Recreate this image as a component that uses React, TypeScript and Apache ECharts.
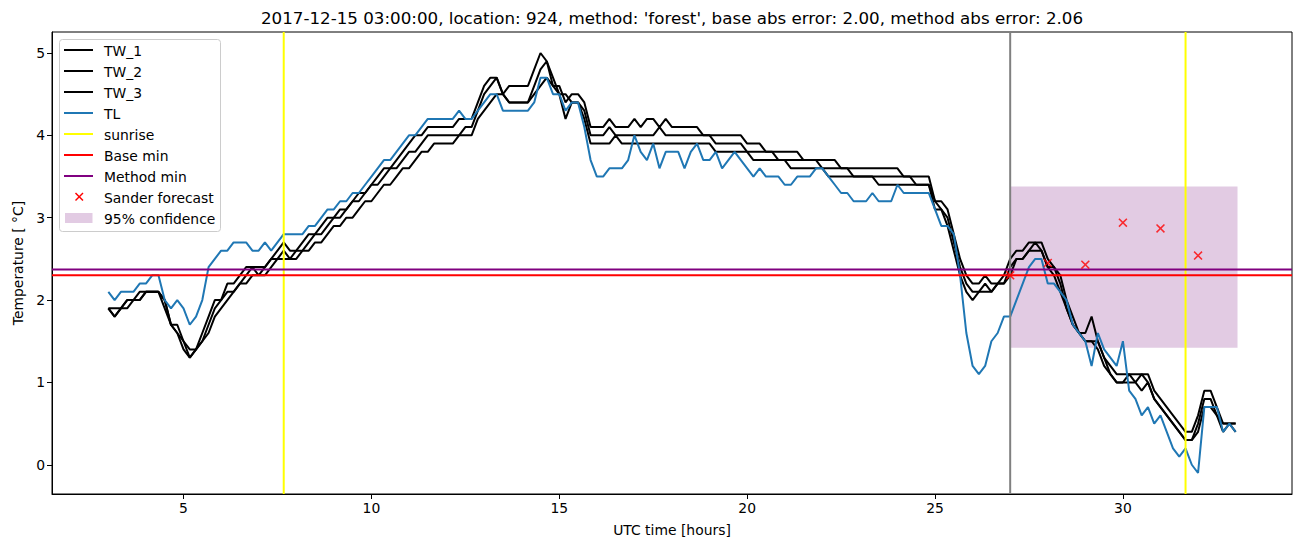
import React, { useEffect, useRef } from "react";
import * as echarts from "echarts";

// ---- data ----
const TIME_START = 3; // hours (UTC), first sample
const TIME_STEP_MIN = 10; // minutes between samples

const TW_1 = [
  1.9, 1.8, 1.9, 2.0, 2.0, 2.1, 2.1, 2.1, 2.1, 1.9,
  1.7, 1.6, 1.4, 1.3, 1.4, 1.6, 1.8, 2.0, 2.0, 2.2,
  2.2, 2.3, 2.4, 2.4, 2.4, 2.4, 2.5, 2.6, 2.7, 2.6,
  2.6, 2.7, 2.8, 2.8, 2.9, 3.0, 3.0, 3.1, 3.1, 3.2,
  3.3, 3.3, 3.4, 3.5, 3.6, 3.6, 3.7, 3.8, 3.9, 4.0,
  4.0, 4.1, 4.1, 4.1, 4.1, 4.1, 4.2, 4.2, 4.2, 4.4,
  4.6, 4.7, 4.7, 4.5, 4.6, 4.6, 4.6, 4.6, 4.8, 5.0,
  4.9, 4.6, 4.6, 4.4, 4.5, 4.5, 4.4, 4.1, 4.1, 4.1,
  4.2, 4.1, 4.1, 4.1, 4.2, 4.1, 4.2, 4.2, 4.1, 4.2,
  4.1, 4.1, 4.1, 4.1, 4.1, 4.0, 4.0, 4.0, 4.0, 4.0,
  4.0, 4.0, 3.9, 3.9, 3.9, 3.8, 3.8, 3.8, 3.8, 3.8,
  3.8, 3.7, 3.7, 3.7, 3.7, 3.7, 3.7, 3.6, 3.6, 3.6,
  3.6, 3.6, 3.6, 3.6, 3.6, 3.6, 3.6, 3.5, 3.5, 3.5,
  3.5, 3.5, 3.2, 3.2, 3.1, 2.8, 2.5, 2.3, 2.2, 2.2,
  2.3, 2.2, 2.2, 2.3, 2.5, 2.6, 2.6, 2.7, 2.7, 2.7,
  2.5, 2.4, 2.3, 2.0, 1.8, 1.6, 1.6, 1.8, 1.5, 1.3,
  1.2, 1.1, 1.1, 1.1, 1.1, 1.1, 1.1, 0.9, 0.8, 0.7,
  0.6, 0.5, 0.4, 0.4, 0.6, 0.9, 0.9, 0.7, 0.5, 0.5, 0.5,
];

const TW_2 = [
  1.9, 1.9, 1.9, 2.0, 2.0, 2.0, 2.1, 2.1, 2.1, 2.0,
  1.7, 1.7, 1.5, 1.4, 1.4, 1.5, 1.7, 1.9, 2.0, 2.1,
  2.1, 2.2, 2.3, 2.4, 2.3, 2.4, 2.5, 2.5, 2.6, 2.5,
  2.6, 2.6, 2.7, 2.8, 2.8, 2.9, 3.0, 3.0, 3.1, 3.2,
  3.2, 3.3, 3.4, 3.4, 3.5, 3.6, 3.6, 3.7, 3.8, 3.8,
  3.9, 4.0, 4.0, 4.0, 4.0, 4.0, 4.0, 4.1, 4.1, 4.3,
  4.5, 4.6, 4.7, 4.5, 4.4, 4.4, 4.4, 4.4, 4.6, 4.8,
  4.9, 4.7, 4.5, 4.5, 4.4, 4.4, 4.3, 4.0, 4.0, 4.0,
  4.1, 4.0, 4.0, 4.0, 4.0, 4.0, 4.0, 4.0, 4.1, 4.0,
  4.0, 4.0, 4.0, 4.0, 4.0, 4.0, 4.0, 3.9, 3.9, 3.9,
  3.9, 3.9, 3.8, 3.8, 3.8, 3.8, 3.8, 3.7, 3.7, 3.7,
  3.7, 3.7, 3.7, 3.7, 3.6, 3.6, 3.6, 3.6, 3.6, 3.5,
  3.5, 3.5, 3.5, 3.5, 3.5, 3.5, 3.5, 3.5, 3.5, 3.4,
  3.4, 3.4, 3.2, 3.1, 3.0, 2.7, 2.4, 2.2, 2.1, 2.1,
  2.2, 2.1, 2.2, 2.2, 2.4, 2.5, 2.5, 2.6, 2.7, 2.6,
  2.4, 2.4, 2.2, 1.9, 1.7, 1.6, 1.5, 1.5, 1.5, 1.3,
  1.1, 1.0, 1.0, 1.1, 1.0, 1.1, 1.0, 0.8, 0.7, 0.6,
  0.5, 0.4, 0.3, 0.3, 0.5, 0.8, 0.8, 0.6, 0.5, 0.5, 0.5,
];

const TW_3 = [
  1.9, 1.8, 1.9, 1.9, 2.0, 2.0, 2.1, 2.1, 2.1, 2.0,
  1.7, 1.6, 1.5, 1.3, 1.4, 1.5, 1.6, 1.8, 1.9, 2.0,
  2.1, 2.2, 2.2, 2.3, 2.3, 2.3, 2.4, 2.5, 2.5, 2.5,
  2.5, 2.6, 2.6, 2.7, 2.7, 2.8, 2.9, 2.9, 3.0, 3.0,
  3.1, 3.2, 3.2, 3.3, 3.4, 3.4, 3.5, 3.6, 3.6, 3.7,
  3.8, 3.8, 3.9, 3.9, 3.9, 3.9, 4.0, 4.0, 4.0, 4.2,
  4.3, 4.4, 4.5, 4.5, 4.4, 4.4, 4.4, 4.4, 4.5, 4.6,
  4.7, 4.6, 4.5, 4.2, 4.4, 4.4, 4.2, 3.9, 3.9, 3.9,
  3.9, 4.0, 3.9, 3.9, 3.9, 3.9, 3.9, 3.9, 3.9, 3.9,
  3.9, 3.9, 3.9, 3.9, 3.9, 3.9, 3.9, 3.8, 3.8, 3.8,
  3.8, 3.8, 3.8, 3.7, 3.7, 3.7, 3.7, 3.7, 3.7, 3.6,
  3.6, 3.6, 3.6, 3.6, 3.6, 3.5, 3.5, 3.5, 3.5, 3.5,
  3.5, 3.5, 3.5, 3.4, 3.4, 3.4, 3.4, 3.4, 3.4, 3.4,
  3.4, 3.4, 3.1, 3.1, 2.9, 2.6, 2.3, 2.1, 2.0, 2.1,
  2.1, 2.1, 2.2, 2.2, 2.3, 2.5, 2.5, 2.6, 2.6, 2.6,
  2.4, 2.3, 2.1, 1.9, 1.7, 1.6, 1.5, 1.5, 1.4, 1.2,
  1.1, 1.0, 1.0, 1.0, 1.0, 0.9, 1.0, 0.8, 0.7, 0.6,
  0.5, 0.4, 0.3, 0.3, 0.4, 0.7, 0.7, 0.6, 0.4, 0.5, 0.4,
];

const TL = [
  2.1, 2.0, 2.1, 2.1, 2.1, 2.2, 2.2, 2.3, 2.3, 2.0,
  1.9, 2.0, 1.9, 1.7, 1.8, 2.0, 2.4, 2.5, 2.6, 2.6,
  2.7, 2.7, 2.7, 2.6, 2.6, 2.7, 2.6, 2.7, 2.8, 2.8,
  2.8, 2.8, 2.9, 2.9, 3.0, 3.1, 3.1, 3.2, 3.2, 3.3,
  3.3, 3.4, 3.5, 3.6, 3.7, 3.7, 3.8, 3.9, 4.0, 4.0,
  4.1, 4.2, 4.2, 4.2, 4.2, 4.2, 4.3, 4.2, 4.2, 4.3,
  4.4, 4.5, 4.5, 4.3, 4.3, 4.3, 4.3, 4.3, 4.4, 4.7,
  4.7, 4.5, 4.5, 4.3, 4.4, 4.4, 4.1, 3.7, 3.5, 3.5,
  3.6, 3.6, 3.6, 3.7, 4.0, 3.8, 3.7, 3.9, 3.6, 3.8,
  3.8, 3.8, 3.6, 3.8, 3.9, 3.7, 3.7, 3.8, 3.6, 3.7,
  3.8, 3.7, 3.6, 3.5, 3.6, 3.5, 3.5, 3.5, 3.4, 3.4,
  3.5, 3.5, 3.5, 3.6, 3.6, 3.5, 3.4, 3.3, 3.3, 3.2,
  3.2, 3.2, 3.3, 3.2, 3.2, 3.2, 3.4, 3.3, 3.3, 3.3,
  3.3, 3.3, 3.1, 2.9, 2.9, 2.8, 2.3, 1.6, 1.2, 1.1,
  1.2, 1.5, 1.6, 1.8, 1.8, 2.0, 2.2, 2.4, 2.5, 2.5,
  2.2, 2.2, 2.1, 2.0, 1.7, 1.6, 1.5, 1.2, 1.6, 1.4,
  1.3, 1.2, 1.5, 0.9, 0.8, 0.6, 0.7, 0.5, 0.6, 0.4,
  0.2, 0.1, 0.2, 0.0, -0.1, 0.7, 0.7, 0.7, 0.4, 0.5, 0.4,
];

const SUNRISE_TIMES = [7.667, 31.667];
const FORECAST_START = 27;
const BASE_MIN = 2.3;
const METHOD_MIN = 2.37;
const SANDER_TIMES = [27, 28, 29, 30, 31, 32];
const SANDER_VALUES = [2.3, 2.45, 2.43, 2.94, 2.87, 2.54];
const CONF_START = 27;
const CONF_END = 33.05;
const CONF_LOW = 1.42;
const CONF_HIGH = 3.38;

const X_TICKS = [5, 10, 15, 20, 25, 30];
const Y_TICKS = [0, 1, 2, 3, 4, 5];
const X_MIN = 1.5;
const X_MAX = 34.5;
const Y_MIN = -0.355;
const Y_MAX = 5.255;

const TITLE =
  "2017-12-15 03:00:00, location: 924, method: 'forest', base abs error: 2.00, method abs error: 2.06";

const CONF_COLOR = "#e2cbe3";

const LEGEND_ITEMS = [
  { name: "TW_1", kind: "line", color: "#000000" },
  { name: "TW_2", kind: "line", color: "#000000" },
  { name: "TW_3", kind: "line", color: "#000000" },
  { name: "TL", kind: "line", color: "#1f77b4" },
  { name: "sunrise", kind: "line", color: "#ffff00" },
  { name: "Base min", kind: "line", color: "#ff0000" },
  { name: "Method min", kind: "line", color: "#800080" },
  { name: "Sander forecast", kind: "x", color: "#ff0000" },
  { name: "95% confidence", kind: "patch", color: CONF_COLOR },
];

// ---- helpers ----
const FONT = "DejaVu Sans, Liberation Sans, sans-serif";
const timeAt = (i: number) => TIME_START + (i * TIME_STEP_MIN) / 60;
const toPairs = (vals: number[]) => vals.map((v, i) => [timeAt(i), v]);

const X_SYMBOL =
  "path://M0,1.2 L1.2,0 L5,3.8 L8.8,0 L10,1.2 L6.2,5 L10,8.8 L8.8,10 L5,6.2 L1.2,10 L0,8.8 L3.8,5 Z";

function lineSeries(name: string, data: any[], color: string, z = 2) {
  return {
    type: "line",
    name,
    data,
    showSymbol: false,
    symbol: "none",
    lineStyle: { color, width: 2 },
    itemStyle: { color },
    silent: true,
    clip: true,
    z,
  };
}

function buildLegend() {
  const elements: any[] = [];
  const x0 = 59.5;
  const y0 = 39.5;
  elements.push({
    type: "rect",
    shape: { x: x0, y: y0, width: 161, height: 192, r: 3 },
    style: { fill: "rgba(255,255,255,0.8)", stroke: "#cccccc", lineWidth: 1 },
    z: 100,
  });
  LEGEND_ITEMS.forEach((it, k) => {
    const cy = 51 + k * 21;
    if (it.kind === "line") {
      elements.push({
        type: "line",
        shape: { x1: 64, y1: cy - 1, x2: 93, y2: cy - 1 },
        style: { stroke: it.color, lineWidth: 2 },
        z: 101,
      });
    } else if (it.kind === "x") {
      elements.push({
        type: "line",
        shape: { x1: 75.5, y1: cy - 5, x2: 83, y2: cy + 2.5 },
        style: { stroke: it.color, lineWidth: 1.5 },
        z: 101,
      });
      elements.push({
        type: "line",
        shape: { x1: 83, y1: cy - 5, x2: 75.5, y2: cy + 2.5 },
        style: { stroke: it.color, lineWidth: 1.5 },
        z: 101,
      });
    } else {
      elements.push({
        type: "rect",
        shape: { x: 65, y: cy - 6, width: 27.5, height: 10 },
        style: { fill: it.color },
        z: 101,
      });
    }
    elements.push({
      type: "text",
      x: 104,
      y: cy,
      style: {
        text: it.name,
        fill: "#000",
        font: `13.9px ${FONT}`,
        align: "left",
        verticalAlign: "middle",
      },
      z: 101,
    });
  });
  return elements;
}

export default function App() {
  const ref = useRef<HTMLDivElement>(null);
  useEffect(() => {
    document.body.style.margin = "0";
    const chart = echarts.init(ref.current!, null, { renderer: "svg" });
    const axisText = { color: "#000", fontSize: 13.9, fontFamily: FONT };
    const option: any = {
      animation: false,
      backgroundColor: "#ffffff",
      grid: {
        left: 52,
        right: 10,
        top: 32,
        bottom: 53,
        show: true,
        borderColor: "#000",
        borderWidth: 1,
        backgroundColor: "transparent",
      },
      xAxis: {
        type: "value",
        min: X_MIN,
        max: X_MAX,
        name: "UTC time [hours]",
        nameLocation: "middle",
        nameGap: 29,
        nameTextStyle: axisText,
        axisLine: { show: true, onZero: false, lineStyle: { color: "#000", width: 1 } },
        axisTick: {
          show: true,
          inside: false,
          length: 5,
          customValues: X_TICKS,
          lineStyle: { color: "#000", width: 1 },
        },
        axisLabel: {
          ...axisText,
          margin: 7,
          customValues: X_TICKS,
          formatter: (v: number) => String(v),
        },
        splitLine: { show: false },
      },
      yAxis: {
        type: "value",
        min: Y_MIN,
        max: Y_MAX,
        name: "Temperature [ °C]",
        nameLocation: "middle",
        nameRotate: 90,
        nameGap: 27,
        nameTextStyle: axisText,
        axisLine: { show: true, onZero: false, lineStyle: { color: "#000", width: 1 } },
        axisTick: {
          show: true,
          inside: false,
          length: 5,
          customValues: Y_TICKS,
          lineStyle: { color: "#000", width: 1 },
        },
        axisLabel: {
          ...axisText,
          margin: 7,
          customValues: Y_TICKS,
          formatter: (v: number) => String(v),
        },
        splitLine: { show: false },
      },
      graphic: [
        {
          type: "text",
          x: 672,
          y: 18,
          style: {
            text: TITLE,
            fill: "#000",
            font: `16.7px ${FONT}`,
            align: "center",
            verticalAlign: "middle",
          },
        },
        ...buildLegend(),
      ],
      series: [
        {
          type: "custom",
          name: "95% confidence",
          data: [[CONF_START, CONF_END, CONF_LOW, CONF_HIGH]],
          encode: { x: [0, 1], y: [2, 3] },
          silent: true,
          z: 1,
          renderItem: (_params: any, api: any) => {
            const p0 = api.coord([api.value(0), api.value(3)]);
            const p1 = api.coord([api.value(1), api.value(2)]);
            return {
              type: "rect",
              shape: { x: p0[0], y: p0[1], width: p1[0] - p0[0], height: p1[1] - p0[1] },
              style: { fill: CONF_COLOR },
            };
          },
        },
        lineSeries("TW_1", toPairs(TW_1), "#000000"),
        lineSeries("TW_2", toPairs(TW_2), "#000000"),
        lineSeries("TW_3", toPairs(TW_3), "#000000"),
        lineSeries("TL", toPairs(TL), "#1f77b4"),
        lineSeries(
          "forecast time",
          [
            [FORECAST_START, Y_MIN],
            [FORECAST_START, Y_MAX],
          ],
          "#808080"
        ),
        ...SUNRISE_TIMES.map((t) =>
          lineSeries(
            "sunrise",
            [
              [t, Y_MIN],
              [t, Y_MAX],
            ],
            "#ffff00"
          )
        ),
        lineSeries(
          "Base min",
          [
            [X_MIN, BASE_MIN],
            [X_MAX, BASE_MIN],
          ],
          "#ff0000"
        ),
        lineSeries(
          "Method min",
          [
            [X_MIN, METHOD_MIN],
            [X_MAX, METHOD_MIN],
          ],
          "#800080"
        ),
        {
          type: "scatter",
          name: "Sander forecast",
          data: SANDER_TIMES.map((t, i) => [t, SANDER_VALUES[i]]),
          symbol: X_SYMBOL,
          symbolSize: 9,
          itemStyle: { color: "#ff0000" },
          silent: true,
          z: 3,
        },
      ],
    };
    chart.setOption(option);
    return () => chart.dispose();
  }, []);
  return (
    <div
      ref={ref}
      style={{ position: "fixed", left: 0, top: 0, width: 1302, height: 547, background: "#fff" }}
    />
  );
}
